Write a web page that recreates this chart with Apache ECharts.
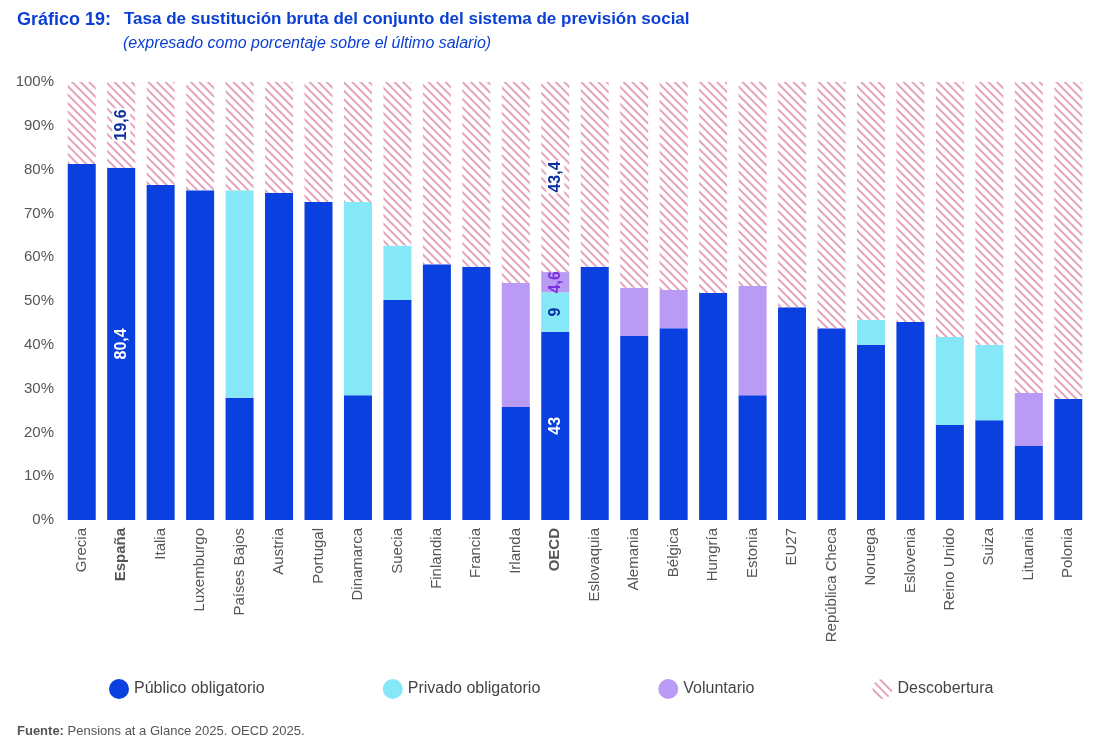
<!DOCTYPE html>
<html><head><meta charset="utf-8">
<script src="https://cdn.jsdelivr.net/npm/echarts@6/dist/echarts.min.js"></script>
<style>body{margin:0;background:#fff}#c{width:1100px;height:744px}</style></head>
<body><div id="c"></div>
<script>
const categories=['Grecia','España','Italia','Luxemburgo','Países Bajos','Austria','Portugal','Dinamarca','Suecia','Finlandia','Francia','Irlanda','OECD','Eslovaquia','Alemania','Bélgica','Hungría','Estonia','EU27','República Checa','Noruega','Eslovenia','Reino Unido','Suiza','Lituania','Polonia'];
const publico=[81.3,80.4,76.5,75.3,27.9,74.7,72.6,28.5,50.2,58.4,57.8,25.8,43,57.8,42.0,43.8,51.8,28.5,48.6,43.8,40.0,45.2,21.7,22.8,16.9,27.6];
const privado=[0,0,0,0,47.4,0,0,44.1,12.4,0,0,0,9,0,0,0,0,0,0,0,5.7,0,20.1,17.2,0,0];
const voluntario=[0,0,0,0,0,0,0,0,0,0,0,28.3,4.6,0,11.0,8.7,0,24.9,0,0,0,0,0,0,12.1,0];
const descobertura=categories.map((c,i)=>+(100-publico[i]-privado[i]-voluntario[i]).toFixed(1));
descobertura[1]=19.6; descobertura[12]=43.4;
const labelled=['España','OECD'];
function mk(arr,lblColor,box){
  return arr.map((v,i)=>{
    const o={value:v};
    if(labelled.includes(categories[i])&&v>0){
      o.label={show:true,position:'inside',rotate:90,color:lblColor,fontWeight:'bold',fontSize:16,
        formatter:String(v).replace('.',','),backgroundColor:box?'#fff':'transparent',padding:[1,1]};
    }
    return o;
  });
}
const chart=echarts.init(document.getElementById('c'));
const dec={symbol:'rect',dashArrayX:[1,0],dashArrayY:[1.5,4],rotation:Math.PI/4,color:'#e4a3bd',symbolSize:1};
chart.setOption({
  animation:false,
  title:[{text:'Gráfico 19:',left:12,top:6,textStyle:{fontSize:18,fontWeight:'bold',color:'#0a3fd6'}},
    {text:'Tasa de sustitución bruta del conjunto del sistema de previsión social',left:119,top:6,textStyle:{fontSize:17,fontWeight:'bold',color:'#0a3fd6'}},
    {text:'(expresado como porcentaje sobre el último salario)',left:118,top:31,textStyle:{fontSize:16,fontStyle:'italic',fontWeight:'normal',color:'#0a3fd6'}},
    {text:'{a|Fuente:} Pensions at a Glance 2025. OECD 2025.',left:12,top:720,textStyle:{fontSize:13,fontWeight:'normal',color:'#555',rich:{a:{fontWeight:'bold',fontSize:13,color:'#555'}}}}],
  legend:{top:674,left:104,itemGap:118,icon:'circle',itemWidth:20,itemHeight:20,textStyle:{fontSize:16,color:'#444'},
    data:['Público obligatorio','Privado obligatorio','Voluntario','Descobertura']},
  grid:{left:62,right:12,top:82,bottom:224},
  xAxis:{type:'category',data:categories,axisTick:{show:false},axisLine:{show:false},
    axisLabel:{rotate:90,fontSize:15,color:'#555',interval:0,formatter:v=>labelled.includes(v)?'{b|'+v+'}':v,rich:{b:{fontWeight:'bold',fontSize:15,color:'#555'}}}},
  yAxis:{type:'value',min:0,max:100,interval:10,axisLabel:{formatter:'{value}%',fontSize:15,color:'#555'},
    splitLine:{show:false}},
  series:[
    {name:'Público obligatorio',type:'bar',stack:'t',barWidth:28,data:mk(publico,'#fff',false),itemStyle:{color:'#0a3fe0'}},
    {name:'Privado obligatorio',type:'bar',stack:'t',data:mk(privado,'#0a2fa0',false),itemStyle:{color:'#86e8f7'}},
    {name:'Voluntario',type:'bar',stack:'t',data:mk(voluntario,'#7a2fe0',false),itemStyle:{color:'#b99af5'}},
    {name:'Descobertura',type:'bar',stack:'t',data:mk(descobertura,'#0a2fa0',true),itemStyle:{color:'#fff',decal:dec}}
  ]
});
</script></body></html>
